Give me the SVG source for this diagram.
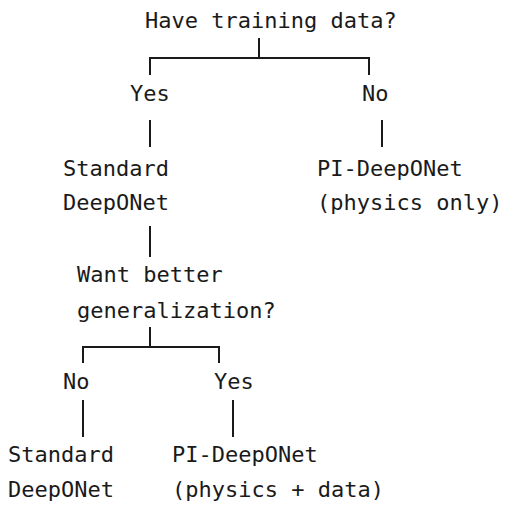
<svg xmlns="http://www.w3.org/2000/svg" width="511" height="506" viewBox="0 0 511 506">
<style>
text{font-family:"DejaVu Sans Mono","Liberation Mono",monospace;font-size:22px;fill:#1a1a1a}
.c{stroke:#1a1a1a;stroke-width:2;fill:none}
</style>
<rect width="511" height="506" fill="#fff"/>
<g id="connectors">
<path class="c" d="M259 38V58M150 58H369M150 57V75M369 57V75"/>
<path class="c" d="M150 120V147M382 120V147"/>
<path class="c" d="M150 226V257"/>
<path class="c" d="M150 327V347M83 347H219M83 346V363M219 346V363"/>
<path class="c" d="M83 400V437M233 400V437"/>
</g>
<g id="q1"><text x="145" y="28">Have training data?</text></g>
<g id="yes1"><text x="130" y="101">Yes</text></g>
<g id="no1"><text x="362" y="101">No</text></g>
<g id="std1"><text x="63" y="176">Standard</text><text x="63" y="210">DeepONet</text></g>
<g id="pi1"><text x="317" y="176"> PI-DeepONet</text><text x="317" y="210">(physics only)</text></g>
<g id="q2"><text x="77" y="282">Want better</text><text x="77" y="318">generalization?</text></g>
<g id="no2"><text x="63" y="389">No</text></g>
<g id="yes2"><text x="214" y="389">Yes</text></g>
<g id="std2"><text x="8" y="462">Standard</text><text x="8" y="497">DeepONet</text></g>
<g id="pi2"><text x="172" y="462">PI-DeepONet</text><text x="172" y="497">(physics + data)</text></g>
</svg>
